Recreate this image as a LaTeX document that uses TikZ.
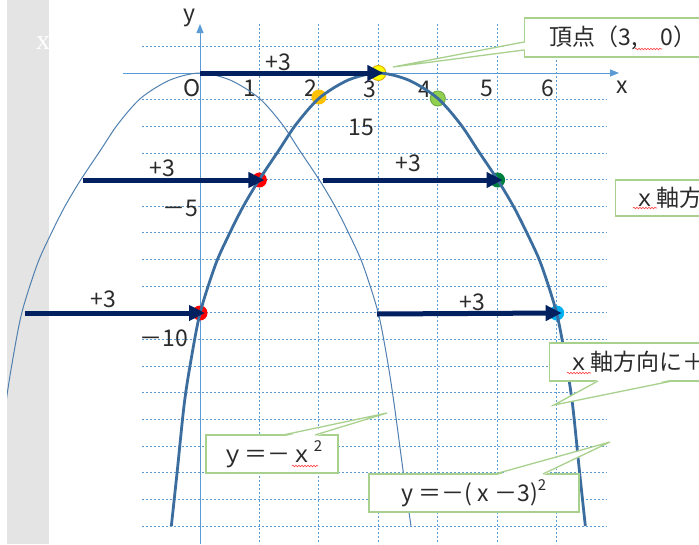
\documentclass[tikz,border=0pt]{standalone}
\usepackage{fontspec}
\setmainfont{Noto Sans CJK JP}
\newfontfamily\serifx{Liberation Serif}
\usetikzlibrary{arrows.meta,decorations.pathmorphing}
\definecolor{gridblue}{HTML}{5B9BD5}
\definecolor{navy}{HTML}{002060}
\definecolor{curveblue}{HTML}{3B6E9E}
\definecolor{thinblue}{HTML}{5080B0}
\definecolor{callgreen}{HTML}{A9D18E}
\definecolor{band}{HTML}{E4E4E4}
\definecolor{txt}{HTML}{2B2B2B}
\begin{document}
\begin{tikzpicture}[x=1pt,y=-1pt,
  gridline/.style={gridblue, dash pattern=on 2pt off 2pt, line width=0.9pt},
  axisline/.style={gridblue, line width=1pt, -{Triangle[length=9pt,width=7pt]}},
  shiftarrow/.style={navy, line width=5pt, -{Triangle[length=16pt,width=15pt]}, shorten >=-5pt},
  lbl/.style={font=\fontsize{23}{23}\selectfont, text=txt, inner sep=0pt},
  dot/.style={circle, minimum size=15pt, inner sep=0pt, line width=1pt},
  callbox/.style={draw=callgreen, fill=white, line width=1.3pt, inner sep=0pt, font=\fontsize{23}{23}\selectfont, text=txt},
  tail/.style={draw=callgreen, line width=1.3pt},
  wavy/.style={red!75, line width=0.6pt, decorate, decoration={snake, amplitude=0.8pt, segment length=3pt}}
]
\clip (0,0) rectangle (699,544);
\fill[white] (0,0) rectangle (699,544);
\fill[band] (7,0) rectangle (49,544);
\node[text=white, font=\fontsize{28}{28}\selectfont\serifx, inner sep=0pt] (wx) at (43,43) {x};

% grid
\draw[gridline] (142,46.35) -- (607,46.35);
\foreach \k in {1,...,17} \draw[gridline] (142,73+26.65*\k) -- (607,73+26.65*\k);
\foreach \i in {1,...,6} \draw[gridline] (200+59.45*\i,24) -- (200+59.45*\i,544);

% axes
\coordinate (xs) at (123,73); \coordinate (xe) at (619,73);
\coordinate (ys) at (200,544); \coordinate (ye) at (200,24);
\draw[axisline] (xs) -- (xe);
\draw[axisline] (ys) -- (ye);

% axis labels
\node[lbl] (ly) at (189,18) {y};
\node[lbl] (lx) at (622,87) {x};
\node[lbl] (lO) at (192,88) {O};
\node[lbl] (l1) at (250,88) {1};
\node[lbl] (l2) at (311,88) {2};
\node[lbl] (l3) at (370,89) {3};
\node[lbl] (l4) at (425,89) {4};
\node[lbl] (l5) at (487,88) {5};
\node[lbl] (l6) at (548,88) {6};
\node[lbl] (l15) at (361,127) {15};
\node[lbl] (lm5) at (180,208) {－5};
\node[lbl] (lm10) at (164,338) {－10};

% y = -x^2 (thin)
\begin{scope}[shift={(200,73)}]
\draw[thinblue, line width=1pt] plot[smooth] coordinates {(-211,453) (-201,397) (-194,330) (-187,285) (-178,239) (-163,192) (-151,165) (-136,135) (-120,108) (-100,78) (-82,51) (-59,25) (-30,7) (0,0) (30,7) (59,25) (82,51) (100,78) (120,108) (136,135) (151,165) (163,192) (178,239) (187,285) (194,330) (203,397) (211,453)};
\end{scope}
\fill[white] (0,0) rectangle (7,544);

% dots
\node[dot, fill={rgb,255:red,255;green,255;blue,0}, draw={rgb,255:red,224;green,176;blue,0}] (P3) at (378.35,73) {};
\node[dot, fill={rgb,255:red,255;green,192;blue,0}] (Pa) at (318.9,97) {};
\node[dot, fill={rgb,255:red,146;green,208;blue,80}, draw={rgb,255:red,112;green,173;blue,71}] (Pb) at (437.8,98.5) {};
\node[dot, fill={rgb,255:red,0;green,128;blue,64}] (Pc) at (497.6,180) {};
\node[dot, fill={rgb,255:red,0;green,176;blue,240}] (Pd) at (556.7,313) {};
\node[dot, fill=red] (Pe) at (259.4,180) {};
\node[dot, fill=red] (Pf) at (200,313) {};

% y = -(x-3)^2 (thick)
\begin{scope}[shift={(378.35,73)}]
\draw[curveblue, line width=2.8pt] plot[smooth] coordinates {(-207,453) (-201,397) (-194,330) (-187,285) (-178,239) (-163,192) (-151,165) (-136,135) (-120,108) (-100,78) (-82,51) (-59,25) (-30,7) (0,0) (30,7) (59,25) (82,51) (100,78) (120,108) (136,135) (151,165) (163,192) (178,239) (187,285) (194,330) (201,397) (207,453)};
\end{scope}

% shift arrows
\coordinate (s1) at (200,73);
\coordinate (s2) at (83,180);
\coordinate (s3) at (323,180);
\coordinate (s4) at (25,313);
\coordinate (s5) at (377,314);
\draw[shiftarrow] (s1) -- (P3.center);
\draw[shiftarrow] (s2) -- (Pe.center);
\draw[shiftarrow] (s3) -- (Pc.center);
\draw[shiftarrow] (s4) -- (Pf.center);
\draw[shiftarrow] (s5) -- (Pd.center);
\node[lbl] (a1) at (278,62) {+3};
\node[lbl] (a2) at (162,168) {+3};
\node[lbl] (a3) at (408,163) {+3};
\node[lbl] (a4) at (103,299) {+3};
\node[lbl] (a5) at (472,302) {+3};

% callouts
\node[callbox, anchor=west, minimum height=39pt, inner xsep=25pt] (b1) at (524,37.5) {頂点（3,　0）};
\coordinate (t1) at (393,67);
\fill[white] (525.5,42.5) -- (t1) -- (525.5,49.5) -- cycle;
\draw[tail] (524,42) -- (t1) -- (524,50);

\node[callbox, anchor=west, minimum height=36pt, inner xsep=18pt] (b2) at (615,198) {ｘ軸方向に＋３};

\node[callbox, anchor=west, minimum height=38pt, inner xsep=18pt] (b3) at (549,362) {ｘ軸方向に＋３};
\coordinate (t3) at (554,405);
\fill[white] (598.5,379.5) -- (t3) -- (671.5,379.5) -- cycle;
\draw[tail] (598,381) -- (t3) -- (672,381);

\node[callbox, minimum width=132pt, minimum height=38pt] (b4) at (272,454) {ｙ＝－ｘ\raisebox{0.5em}{\fontsize{15}{15}\selectfont 2}};
\coordinate (t4) at (387,413);
\fill[white] (283.5,436.5) -- (t4) -- (314.5,436.5) -- cycle;
\draw[tail] (283,435) -- (t4) -- (315,435);

\node[callbox, minimum width=210pt, minimum height=38pt] (b5) at (474,493) {y ＝－( x －3)\raisebox{0.5em}{\fontsize{15}{15}\selectfont 2}};
\coordinate (t5) at (610,442);
\fill[white] (495.5,475.5) -- (t5) -- (542.5,475.5) -- cycle;
\draw[tail] (495,474) -- (t5) -- (543,474);

% spell-check underlines
\draw[wavy] (635,49) -- (662,49);
\draw[wavy] (633,208) -- (657,208);
\draw[wavy] (567,373) -- (591,373);
\draw[wavy] (292,466) -- (318,466);
\end{tikzpicture}
\end{document}
